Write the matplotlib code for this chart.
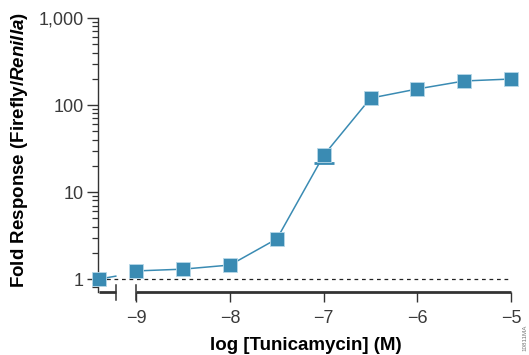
import matplotlib.pyplot as plt

# control (no drug) plotted at the left of the axis break
control_x = -9.4
control_y = 1.0

log_conc = [-9.0, -8.5, -8.0, -7.5, -7.0, -6.5, -6.0, -5.5, -5.0]
fold = [1.24, 1.3, 1.45, 2.9, 26.5, 120, 153, 189, 199]
err_low = [0, 0, 0, 0, 5.0, 0, 0, 0, 0]

x_ticks = [-9, -8, -7, -6, -5]
x_labels = ["\u22129", "\u22128", "\u22127", "\u22126", "\u22125"]
y_ticks = [1, 10, 100, 1000]
y_labels = ["1", "10", "100", "1,000"]

blue = "#3a8bb3"
axis_col = "#333333"

plt.rcParams["font.family"] = ["Liberation Sans", "DejaVu Sans"]
plt.rcParams["mathtext.fontset"] = "custom"
plt.rcParams["mathtext.rm"] = "Liberation Sans"
plt.rcParams["mathtext.bfit"] = "Liberation Sans:italic:bold"

fig = plt.figure(figsize=(5.29, 3.55), dpi=100)
ax = fig.add_axes([98 / 529, (355 - 292) / 355, (513 - 98) / 529, (292 - 18) / 355])

ax.set_yscale("log")
ax.set_ylim(0.71, 1000)
ax.set_xlim(-9.41, -4.98)

# baseline at 1
ax.plot([control_x, -5.0], [1, 1], ls=(0, (3, 3)), color="#222222", lw=0.9, zorder=1)

# line from control to the break, then the dose curve
ax.plot([control_x, -9.22], [control_y, 1.08], color=blue, lw=1.1, zorder=2, clip_on=False)
ex = [x for x, e in zip(log_conc, err_low) if e > 0]
ey = [y for y, e in zip(fold, err_low) if e > 0]
ee = [e for e in err_low if e > 0]
_, caps, _ = ax.errorbar(ex, ey, yerr=[ee, [0] * len(ee)], fmt="none",
                         ecolor=blue, elinewidth=1.0, capsize=7, capthick=2, zorder=2)
if len(caps) > 1:
    caps[1].set_visible(False)
ax.plot(log_conc, fold, color=blue, lw=1.1, marker="s", ms=10,
        mfc=blue, mec="#b7d8e8", mew=0.6, zorder=3, clip_on=False)
ax.plot([control_x], [control_y], marker="s", ms=10, mfc=blue, mec="#b7d8e8",
        mew=0.6, zorder=3, clip_on=False)

# y axis
for s in ["top", "right", "bottom"]:
    ax.spines[s].set_visible(False)
ax.spines["left"].set_color(axis_col)
ax.spines["left"].set_linewidth(1.0)
ax.set_yticks(y_ticks)
ax.set_yticklabels(y_labels)
ax.tick_params(axis="y", which="major", length=8, width=1.0, color=axis_col,
               labelsize=13, labelcolor="#3a3a3a", pad=2)
ax.tick_params(axis="y", which="minor", length=4, width=0.9, color=axis_col)

# broken x axis drawn by hand
xt = ax.get_xaxis_transform()
ax.plot([control_x, -9.22], [0, 0], transform=xt, color=axis_col, lw=2.0,
        clip_on=False, solid_capstyle="butt")
ax.plot([-9.0, -5.0], [0, 0], transform=xt, color=axis_col, lw=2.0,
        clip_on=False, solid_capstyle="butt")
for xb in [-9.22, -9.0]:
    ax.plot([xb, xb], [-0.03, 0.025], transform=xt, color=axis_col, lw=1.1, clip_on=False)
ax.set_xticks(x_ticks)
ax.set_xticklabels(x_labels)
ax.tick_params(axis="x", which="major", length=7, width=1.0, color=axis_col,
               labelsize=13, labelcolor="#3a3a3a", pad=6)
ax.tick_params(axis="x", which="minor", length=0)

ax.set_xlabel("log [Tunicamycin] (M)", fontsize=13.5, fontweight="bold", labelpad=7)
ax.set_ylabel(r"Fold Response (Firefly/$\mathbfit{Renilla}$)", fontsize=13.5,
              fontweight="bold")
ax.yaxis.set_label_coords(-0.165, 0.52)

fig.text(0.992, 0.01, "10811MA", rotation=90, fontsize=4.5, color="#777777",
         ha="center", va="bottom")

fig.savefig("out.png", dpi=100)
